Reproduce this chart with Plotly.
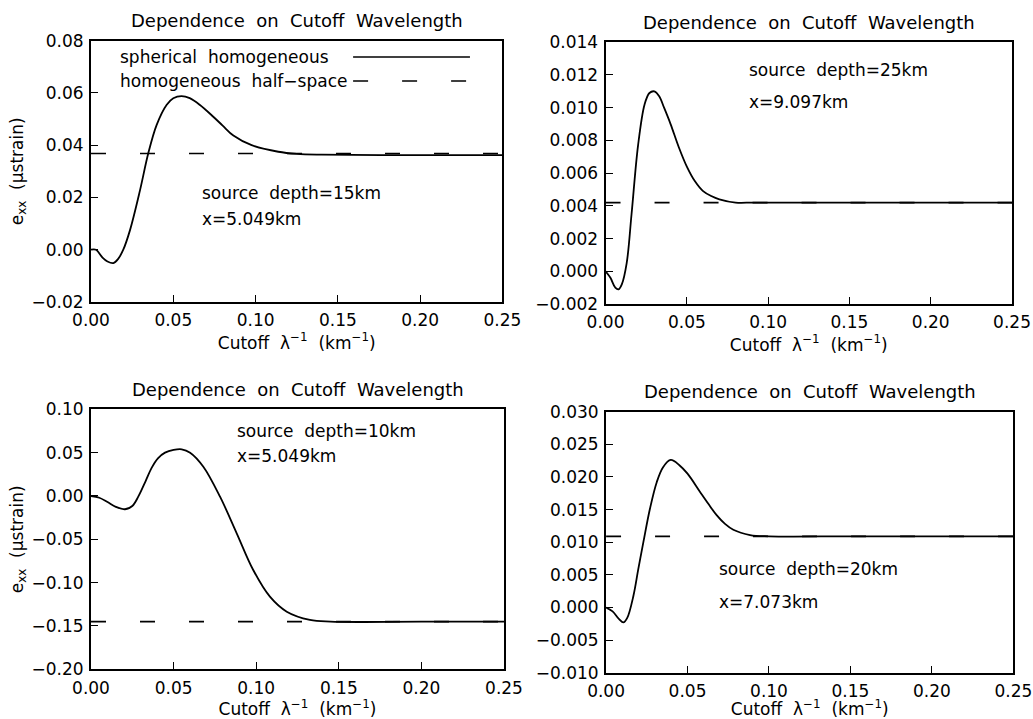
import plotly.graph_objects as go

# ---------------- data ----------------
# Panel A: source depth 15 km, x=5.049 km
x_d15 = [0, 0.003, 0.007, 0.010, 0.0136, 0.0165, 0.0196, 0.0237, 0.0298, 0.0348, 0.0399,
         0.046, 0.050, 0.055, 0.060, 0.0662, 0.0743, 0.080, 0.0865, 0.0976, 0.1138, 0.125,
         0.140, 0.200, 0.250]
y_d15 = [0, 0, -0.003, -0.0045, -0.0051, -0.0035, 0.0, 0.0075, 0.0228, 0.0369, 0.0478,
         0.0555, 0.0580, 0.0588, 0.0580, 0.0554, 0.0509, 0.0475, 0.0437, 0.0400, 0.0375,
         0.0367, 0.0364, 0.0362, 0.0362]
half_d15 = 0.0368

# Panel B: source depth 25 km, x=9.097 km
x_d25 = [0, 0.003, 0.006, 0.008, 0.010, 0.013, 0.016, 0.020, 0.024, 0.027, 0.030, 0.033,
         0.036, 0.040, 0.045, 0.050, 0.055, 0.060, 0.065, 0.070, 0.080, 0.090, 0.100,
         0.150, 0.200, 0.250]
y_d25 = [0, -0.0004, -0.0010, -0.0011, -0.0008, 0.0005, 0.0035, 0.0077, 0.0102, 0.0109,
         0.0110, 0.0107, 0.0100, 0.0090, 0.0076, 0.0064, 0.0055, 0.0049, 0.0046, 0.0044,
         0.0042, 0.0042, 0.0042, 0.0042, 0.0042, 0.0042]
half_d25 = 0.0042

# Panel C: source depth 10 km, x=5.049 km
x_d10 = [0, 0.005, 0.010, 0.015, 0.0206, 0.025, 0.0286, 0.033, 0.0367, 0.0405, 0.0448,
         0.050, 0.0549, 0.060, 0.068, 0.0781, 0.0882, 0.0982, 0.1083, 0.1185, 0.1325,
         0.145, 0.200, 0.250]
y_d10 = [0, -0.002, -0.007, -0.0125, -0.0153, -0.0115, -0.0008, 0.017, 0.0325, 0.0435,
         0.0500, 0.0532, 0.0539, 0.050, 0.0338, -0.0008, -0.043, -0.0854, -0.1162, -0.1335,
         -0.143, -0.145, -0.145, -0.145]
half_d10 = -0.145

# Panel D: source depth 20 km, x=7.073 km
x_d20 = [0, 0.004, 0.008, 0.0106, 0.013, 0.0168, 0.0198, 0.0229, 0.027, 0.0311, 0.035,
         0.0397, 0.045, 0.050, 0.0577, 0.063, 0.068, 0.073, 0.0781, 0.0884, 0.100, 0.150,
         0.200, 0.250]
y_d20 = [0, -0.0006, -0.0018, -0.0023, -0.0016, 0.0018, 0.0059, 0.0100, 0.0152, 0.0192,
         0.0215, 0.0226, 0.0218, 0.0205, 0.0177, 0.0158, 0.0141, 0.0128, 0.0119, 0.0111,
         0.0109, 0.0109, 0.0109, 0.0109]
half_d20 = 0.0109

x_range = [0, 0.25]
x_ticks = [0, 0.05, 0.10, 0.15, 0.20, 0.25]

title_text = "Dependence&nbsp; on&nbsp; Cutoff&nbsp; Wavelength"
xtitle_text = "Cutoff&nbsp; λ<sup>−1</sup>&nbsp; (km<sup>−1</sup>)"
ytitle_text = "e<sub>xx</sub>&nbsp; (μstrain)"
legend_labels = ["spherical&nbsp; homogeneous", "homogeneous&nbsp; half−space"]

panels = [
    dict(x=x_d15, y=y_d15, half=half_d15, yr=[-0.02, 0.08], dt=0.02, fmt=".2f",
         notes=["source&nbsp; depth=15km", "x=5.049km"], nx=0.0662, ny=[0.0217, 0.0118],
         xd=[0.0881, 0.4864], yd=[0.5800, 0.9434], ytitle=True),
    dict(x=x_d25, y=y_d25, half=half_d25, yr=[-0.002, 0.014], dt=0.002, fmt=".3f",
         notes=["source&nbsp; depth=25km", "x=9.097km"], nx=0.0868, ny=[0.0123, 0.01037],
         xd=[0.5862, 0.9797], yd=[0.5772, 0.9412], ytitle=False),
    dict(x=x_d10, y=y_d10, half=half_d10, yr=[-0.20, 0.10], dt=0.05, fmt=".2f",
         notes=["source&nbsp; depth=10km", "x=5.049km"], nx=0.0872, ny=[0.0753, 0.0458],
         xd=[0.0881, 0.4879], yd=[0.0691, 0.4307], ytitle=True),
    dict(x=x_d20, y=y_d20, half=half_d20, yr=[-0.010, 0.030], dt=0.005, fmt=".3f",
         notes=["source&nbsp; depth=20km", "x=7.073km"], nx=0.0679, ny=[0.00585, 0.0008],
         xd=[0.5867, 0.9810], yd=[0.0644, 0.4274], ytitle=False),
]

FONT = "DejaVu Sans"
TXT = dict(family=FONT, size=17, color="black")
fig = go.Figure()
annotations = []
shapes = []

for i, p in enumerate(panels):
    k = "" if i == 0 else str(i + 1)
    xa, ya = "x" + k, "y" + k
    # half-space (dashed)
    fig.add_trace(go.Scatter(
        x=[x_range[0], x_range[1]], y=[p["half"], p["half"]], xaxis=xa, yaxis=ya,
        mode="lines", line=dict(color="black", width=1.6, dash="15px,34px"),
        showlegend=False, hoverinfo="skip"))
    # spherical homogeneous (solid)
    fig.add_trace(go.Scatter(
        x=p["x"], y=p["y"], xaxis=xa, yaxis=ya, mode="lines",
        line=dict(color="black", width=1.8, shape="spline", smoothing=1.0),
        showlegend=False, hoverinfo="skip"))

    axis_common = dict(showgrid=False, zeroline=False, showline=True, linecolor="black",
                       linewidth=2, mirror=True, tickcolor="black", ticklen=7,
                       tickwidth=1.2, ticks="inside", automargin=False,
                       tickfont=dict(family=FONT, size=17, color="black"))
    fig.layout["xaxis" + k] = dict(
        axis_common, domain=p["xd"], range=x_range, tickvals=x_ticks, tickformat=".2f",
        anchor=ya, ticklabelstandoff=2,
        title=dict(text=xtitle_text, font=TXT, standoff=3 if i < 2 else 5))
    yax = dict(axis_common, domain=p["yd"], range=p["yr"], dtick=p["dt"], tick0=0,
               tickformat=p["fmt"], anchor=xa, ticklabelstandoff=2)
    if p["ytitle"]:
        yax["title"] = dict(text=ytitle_text, font=TXT, standoff=4)
    fig.layout["yaxis" + k] = yax

    annotations.append(dict(
        text=title_text, xref=xa + " domain", yref=ya + " domain", x=0.5, y=1,
        yanchor="middle", yshift=20, showarrow=False,
        font=dict(family=FONT, size=18, color="black")))
    for note, ny in zip(p["notes"], p["ny"]):
        annotations.append(dict(
            text=note, xref=xa, yref=ya, x=p["nx"], y=ny, xanchor="left", yanchor="middle",
            showarrow=False, font=TXT))

# legend (first panel), text left of the line samples
legend_y = [0.9376, 0.8458]
for lab, ly in zip(legend_labels, legend_y):
    annotations.append(dict(
        text=lab, xref="x domain", yref="y domain", x=0.0656, y=ly, xanchor="left",
        yanchor="middle", showarrow=False, font=TXT))
shapes.append(dict(type="line", xref="x domain", yref="y domain", x0=0.637, x1=0.921,
                   y0=legend_y[0], y1=legend_y[0], line=dict(color="black", width=1.6)))
shapes.append(dict(type="line", xref="x domain", yref="y domain", x0=0.637, x1=0.921,
                   y0=legend_y[1], y1=legend_y[1],
                   line=dict(color="black", width=1.6, dash="15px,34px")))

fig.update_layout(
    width=1033, height=719, margin=dict(l=0, r=0, t=0, b=0),
    paper_bgcolor="white", plot_bgcolor="white",
    annotations=annotations, shapes=shapes, showlegend=False,
    font=dict(family=FONT, color="black"),
)

fig.write_html("out.html")
